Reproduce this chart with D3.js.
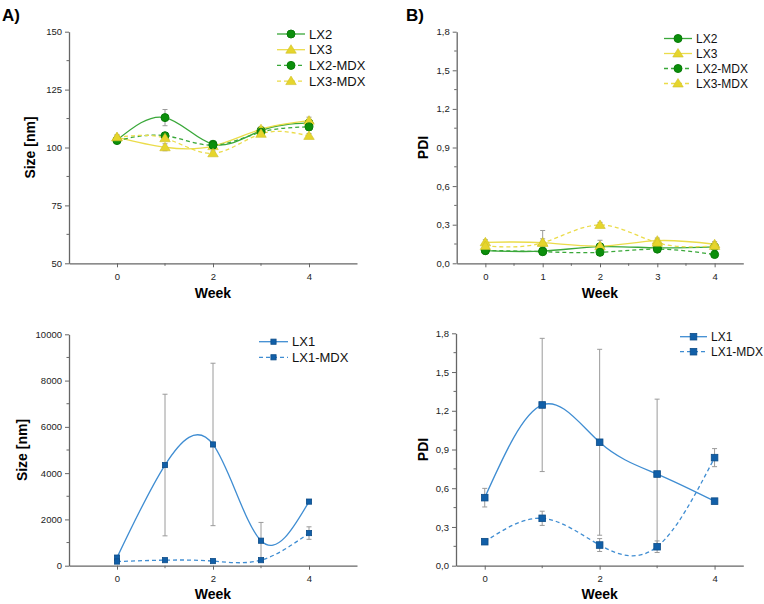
<!DOCTYPE html>
<html>
<head>
<meta charset="utf-8">
<script src="https://cdn.jsdelivr.net/npm/d3@7"></script>
<style>
  body { margin: 0; background: #fff; }
  svg { font-family: "Liberation Sans", Arial, sans-serif; }
</style>
</head>
<body>
<svg width="764" height="604"></svg>
<script>
// --- data ---
const weeks = [0, 1, 2, 3, 4];

// panel A: size [nm]
const sizeLX2 = [103.2, 112.9, 101.4, 107.3, 110.6];
const sizeLX2Err = [0.8, 3.5, 1.2, 1.0, 1.5];
const sizeLX3 = [104.4, 100.1, 100.6, 107.9, 111.6];
const sizeLX3Err = [1.0, 1.5, 1.0, 1.0, 1.5];
const sizeLX2MDX = [103.0, 105.1, 101.0, 106.6, 108.9];
const sizeLX2MDXErr = [0.8, 1.0, 1.0, 1.0, 1.5];
const sizeLX3MDX = [104.4, 104.0, 97.5, 105.9, 105.0];
const sizeLX3MDXErr = [1.0, 1.0, 1.0, 1.0, 1.0];

// panel B: PDI
const pdiLX2 = [0.098, 0.095, 0.129, 0.120, 0.128];
const pdiLX2Err = [0.02, 0.02, 0.02, 0.02, 0.02];
const pdiLX3 = [0.163, 0.160, 0.134, 0.176, 0.148];
const pdiLX3Err = [0.02, 0.03, 0.045, 0.02, 0.02];
const pdiLX2MDX = [0.100, 0.090, 0.085, 0.110, 0.068];
const pdiLX2MDXErr = [0.02, 0.02, 0.02, 0.02, 0.02];
const pdiLX3MDX = [0.134, 0.160, 0.298, 0.160, 0.135];
const pdiLX3MDXErr = [0.02, 0.095, 0.02, 0.02, 0.02];

// panel C: size [nm] LX1
const sizeLX1 = [350, 4350, 5240, 1080, 2770];
const sizeLX1Err = [80, 3060, 3510, 790, 60];
const sizeLX1MDX = [180, 240, 200, 240, 1410];
const sizeLX1MDXErr = [40, 40, 30, 40, 270];

// panel D: PDI LX1
const pdiLX1 = [0.527, 1.245, 0.956, 0.710, 0.500];
const pdiLX1Err = [0.072, 0.516, 0.72, 0.58, 0.01];
const pdiLX1MDX = [0.186, 0.367, 0.160, 0.147, 0.837];
const pdiLX1MDXErr = [0.02, 0.055, 0.05, 0.045, 0.07];

const sizeTicks = [50, 75, 100, 125, 150];
const pdiTicks = [0, 0.3, 0.6, 0.9, 1.2, 1.5, 1.8];
const bigSizeTicks = [0, 2000, 4000, 6000, 8000, 10000];

const green = { line: '#3aa83a', mark: '#0b8f0b' };
const yellow = { line: '#ebdc4a', mark: '#e6d52c' };
const blue = { line: '#3f8dd2', mark: '#115fa8' };

const svg = d3.select('svg');
const axisColor = '#666';
const comma = v => d3.format('.1f')(v).replace('.', ',');

function marker(g, shape, x, y, size, col) {
    if (shape === 'circle') {
        g.append('circle').attr('cx', x).attr('cy', y).attr('r', size)
            .attr('fill', col.mark).attr('stroke', d3.color(col.mark).darker(0.4));
    } else if (shape === 'triangle') {
        const s = size * 1.25;
        g.append('path')
            .attr('d', `M${x},${y - s}L${x + s * 1.05},${y + s * 0.7}L${x - s * 1.05},${y + s * 0.7}Z`)
            .attr('fill', col.mark).attr('stroke', d3.color(col.mark).darker(0.3)).attr('stroke-width', 0.6);
    } else {
        g.append('rect').attr('x', x - size).attr('y', y - size)
            .attr('width', size * 2).attr('height', size * 2)
            .attr('fill', col.mark).attr('stroke', d3.color(col.mark).darker(0.6)).attr('stroke-width', 0.8);
    }
}

function panel(p) {
    const x = d3.scaleLinear().domain(p.xDomain).range(p.xRange);
    const y = d3.scaleLinear().domain(p.yDomain).range(p.yRange);
    const g = svg.append('g');

    // error bars
    p.series.forEach(s => {
        weeks.forEach((w, i) => {
            const e = s.err[i];
            const eb = g.append('g').attr('stroke', '#9a9a9a').attr('stroke-width', 1);
            eb.append('line').attr('x1', x(w)).attr('x2', x(w))
                .attr('y1', y(s.values[i] - e)).attr('y2', y(s.values[i] + e));
            [s.values[i] - e, s.values[i] + e].forEach(v => {
                eb.append('line').attr('x1', x(w) - 2.5).attr('x2', x(w) + 2.5)
                    .attr('y1', y(v)).attr('y2', y(v));
            });
        });
    });

    // lines
    const line = d3.line().x((d, i) => x(weeks[i])).y(d => y(d)).curve(d3.curveNatural);
    p.series.forEach(s => {
        g.append('path').datum(s.values)
            .attr('d', line)
            .attr('fill', 'none')
            .attr('stroke', s.color.line)
            .attr('stroke-width', 1.3)
            .attr('stroke-dasharray', s.dashed ? '4,3' : null);
    });

    // markers
    p.series.forEach(s => {
        s.values.forEach((v, i) => marker(g, s.shape, x(weeks[i]), y(v), p.markSize, s.color));
    });

    // axes
    const xAxis = g.append('g').attr('transform', `translate(0,${p.yRange[0]})`)
        .call(d3.axisBottom(x).tickValues(p.xTicks).tickFormat(d3.format('d'))
            .tickSize(4).tickSizeOuter(0).tickPadding(6));
    xAxis.append('g').selectAll('line').data(p.xMinor).join('line')
        .attr('x1', d => x(d)).attr('x2', d => x(d)).attr('y1', 0).attr('y2', 2.5)
        .attr('stroke', axisColor);
    const yAxis = g.append('g').attr('transform', `translate(${p.xRange[0]},0)`)
        .call(d3.axisLeft(y).tickValues(p.yTicks).tickFormat(p.yFormat).tickSize(4).tickSizeOuter(0).tickPadding(3));
    yAxis.append('g').selectAll('line').data(p.yMinor).join('line')
        .attr('y1', d => y(d)).attr('y2', d => y(d)).attr('x1', 0).attr('x2', -2.5)
        .attr('stroke', axisColor);
    [xAxis, yAxis].forEach(a => {
        a.select('.domain').attr('stroke', axisColor).attr('stroke-width', 1.3);
        a.selectAll('.tick line').attr('stroke', axisColor);
        a.selectAll('.tick text').attr('fill', '#222').style('font-size', '9.5px');
    });

    // axis titles
    g.append('text')
        .attr('x', (p.xRange[0] + p.xRange[1]) / 2).attr('y', p.yRange[0] + p.weekDy)
        .attr('text-anchor', 'middle').style('font-size', '14px').style('font-weight', 'bold')
        .text('Week');
    g.append('text')
        .attr('transform', `translate(${p.yTitleX},${(p.yRange[0] + p.yRange[1]) / 2}) rotate(-90)`)
        .attr('text-anchor', 'middle').attr('dy', '0.35em')
        .style('font-size', '14px').style('font-weight', 'bold')
        .text(p.yTitle);

    // legend
    const leg = g.append('g');
    p.series.forEach((s, i) => {
        const ly = p.legend.y + i * p.legend.dy;
        leg.append('line').attr('x1', p.legend.x).attr('x2', p.legend.x + p.legend.len)
            .attr('y1', ly).attr('y2', ly)
            .attr('stroke', s.color.line).attr('stroke-width', 1.3)
            .attr('stroke-dasharray', s.dashed ? '4,3' : null);
        marker(leg, s.shape, p.legend.x + p.legend.len / 2, ly, p.markSize, s.color);
        leg.append('text').attr('x', p.legend.x + p.legend.len + 4).attr('y', ly)
            .attr('dy', '0.35em').style('font-size', p.legend.font).attr('fill', '#111')
            .text(s.name);
    });

    if (p.label) {
        svg.append('text').attr('x', p.label.x).attr('y', 21)
            .style('font-size', '17px').style('font-weight', 'bold').text(p.label.text);
    }
}

panel({
    label: { text: 'A)', x: 2 },
    xDomain: [-1, 5], xRange: [69, 357], xTicks: [0, 2, 4], xMinor: [1, 3],
    yDomain: [50, 150], yRange: [263.3, 31.7], yTicks: sizeTicks,
    yMinor: [62.5, 87.5, 112.5, 137.5], yFormat: d3.format('d'),
    yTitle: 'Size [nm]', yTitleX: 30, markSize: 4, weekDy: 35,
    legend: { x: 277, y: 34, dy: 15.7, len: 28, font: '13px' },
    series: [
        { name: 'LX2', values: sizeLX2, err: sizeLX2Err, color: green, shape: 'circle', dashed: false },
        { name: 'LX3', values: sizeLX3, err: sizeLX3Err, color: yellow, shape: 'triangle', dashed: false },
        { name: 'LX2-MDX', values: sizeLX2MDX, err: sizeLX2MDXErr, color: green, shape: 'circle', dashed: true },
        { name: 'LX3-MDX', values: sizeLX3MDX, err: sizeLX3MDXErr, color: yellow, shape: 'triangle', dashed: true }
    ]
});

panel({
    label: { text: 'B)', x: 406 },
    xDomain: [-0.5, 4.5], xRange: [456.7, 743.3], xTicks: [0, 1, 2, 3, 4], xMinor: [0.5, 1.5, 2.5, 3.5],
    yDomain: [0, 1.8], yRange: [263.3, 31.7], yTicks: pdiTicks,
    yMinor: [0.15, 0.45, 0.75, 1.05, 1.35, 1.65], yFormat: comma,
    yTitle: 'PDI', yTitleX: 423, markSize: 4, weekDy: 35,
    legend: { x: 664, y: 38.5, dy: 15, len: 28, font: '12px' },
    series: [
        { name: 'LX2', values: pdiLX2, err: pdiLX2Err, color: green, shape: 'circle', dashed: false },
        { name: 'LX3', values: pdiLX3, err: pdiLX3Err, color: yellow, shape: 'triangle', dashed: false },
        { name: 'LX2-MDX', values: pdiLX2MDX, err: pdiLX2MDXErr, color: green, shape: 'circle', dashed: true },
        { name: 'LX3-MDX', values: pdiLX3MDX, err: pdiLX3MDXErr, color: yellow, shape: 'triangle', dashed: true }
    ]
});

panel({
    xDomain: [-1, 5], xRange: [69, 357], xTicks: [0, 2, 4], xMinor: [1, 3],
    yDomain: [0, 10000], yRange: [565.7, 334.3], yTicks: bigSizeTicks,
    yMinor: [1000, 3000, 5000, 7000, 9000], yFormat: d3.format('d'),
    yTitle: 'Size [nm]', yTitleX: 22, markSize: 2.6, weekDy: 33.5,
    legend: { x: 259, y: 341.7, dy: 15.6, len: 29, font: '13px' },
    series: [
        { name: 'LX1', values: sizeLX1, err: sizeLX1Err, color: blue, shape: 'square', dashed: false },
        { name: 'LX1-MDX', values: sizeLX1MDX, err: sizeLX1MDXErr, color: blue, shape: 'square', dashed: true }
    ]
});

panel({
    xDomain: [-0.5, 4.5], xRange: [456, 743.3], xTicks: [0, 2, 4], xMinor: [1, 3],
    yDomain: [0, 1.8], yRange: [565.7, 333.3], yTicks: pdiTicks,
    yMinor: [0.15, 0.45, 0.75, 1.05, 1.35, 1.65], yFormat: comma,
    yTitle: 'PDI', yTitleX: 423, markSize: 3.3, weekDy: 33.5,
    legend: { x: 680, y: 336.7, dy: 15, len: 27, font: '12px' },
    series: [
        { name: 'LX1', values: pdiLX1, err: pdiLX1Err, color: blue, shape: 'square', dashed: false },
        { name: 'LX1-MDX', values: pdiLX1MDX, err: pdiLX1MDXErr, color: blue, shape: 'square', dashed: true }
    ]
});
</script>
</body>
</html>
